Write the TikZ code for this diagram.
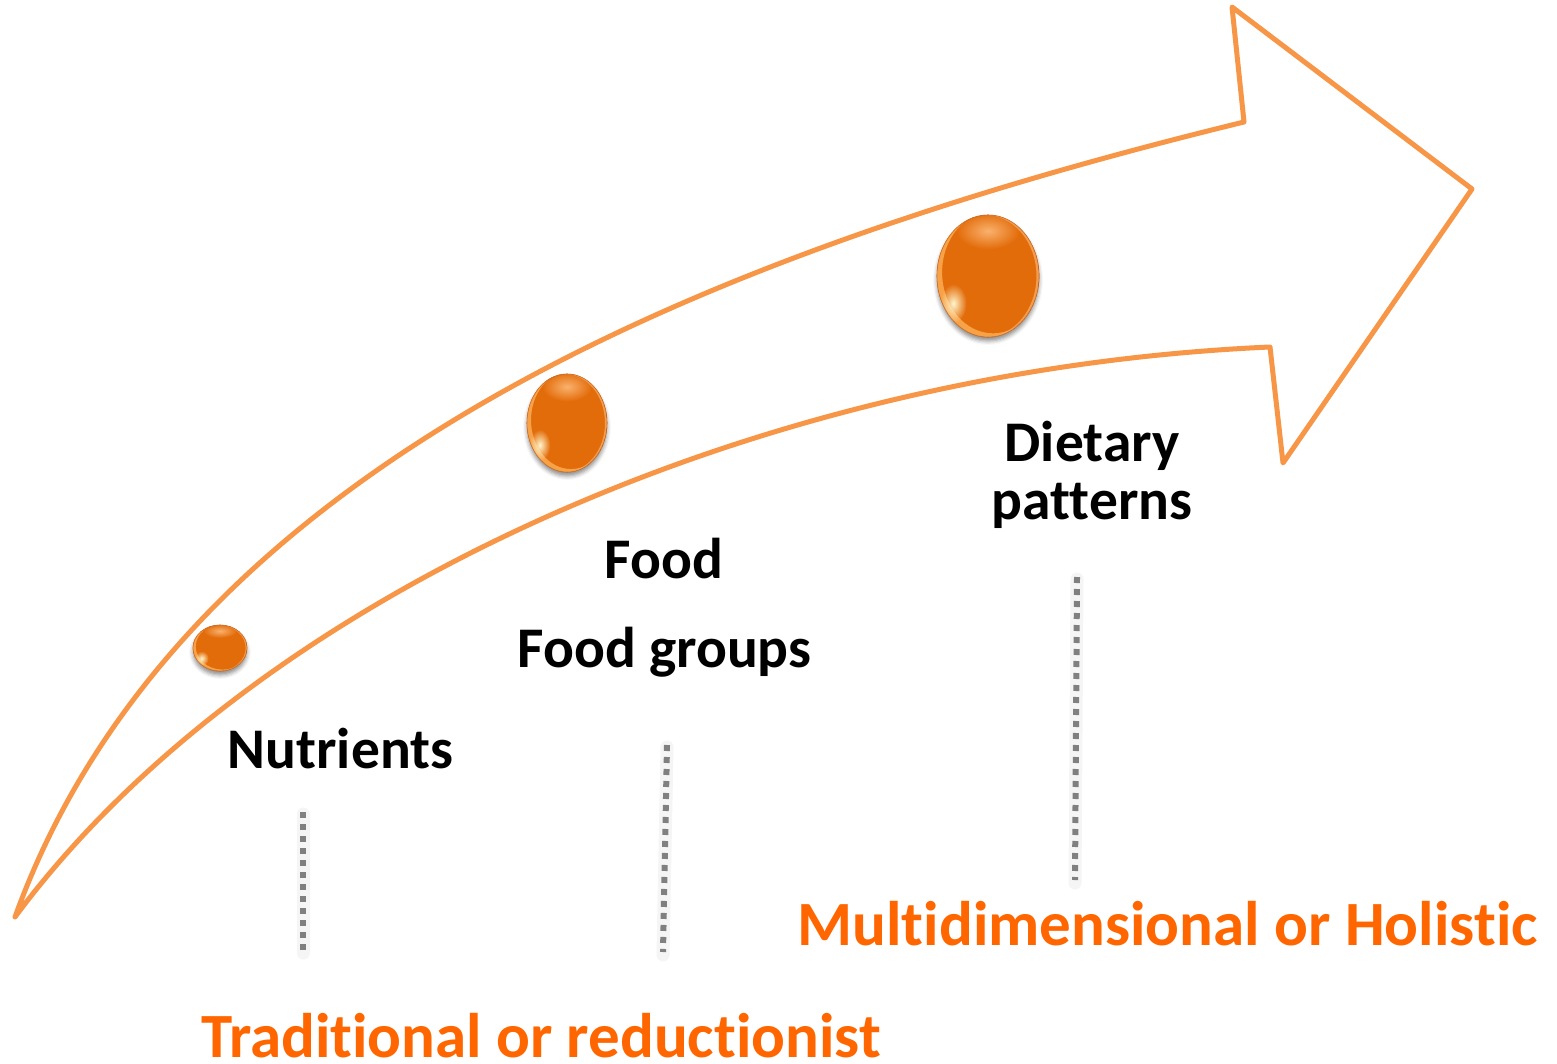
\documentclass[tikz,border=0pt]{standalone}
\usepackage{fontspec}
\setmainfont{Carlito}[Ligatures={NoCommon}, RawFeature={-liga;-clig}]
\usetikzlibrary{shapes.geometric,shadows.blur,fadings,calc}

\definecolor{arrowor}{RGB}{247,150,70}
\definecolor{ballor}{RGB}{227,108,10}
\definecolor{ballrim}{RGB}{196,92,18}
\definecolor{sheen}{RGB}{250,178,110}
\definecolor{rimglow}{RGB}{250,168,78}
\definecolor{spotglow}{RGB}{255,246,205}
\definecolor{labelor}{RGB}{255,102,0}
\definecolor{dotgray}{RGB}{128,128,128}

\tikzfading[name=glowfade, inner color=transparent!0, outer color=transparent!100]

\tikzset{
  arrowline/.style={draw=arrowor, line width=5pt, line join=round, line cap=round},
  lbl/.style={inner sep=0pt, anchor=base, font=\fontsize{57.5}{57.5}\selectfont\bfseries, text=black},
  cat/.style={inner sep=0pt, anchor=base, font=\fontsize{63}{63}\selectfont\bfseries, text=labelor},
  dotline/.style={draw=dotgray, line width=6pt, dash pattern=on 6pt off 6pt},
  dothalo/.style={draw=black, line width=13pt, opacity=0.04, line cap=round},
  ball/.style={ellipse, fill=ballor, draw=ballrim, line width=0.6pt, inner sep=0pt,
    blur shadow={shadow xshift=0pt, shadow yshift=-4pt, shadow blur radius=4pt, shadow opacity=45}},
}

% glossy orange bead: name, x, y, x-radius, y-radius
\newcommand\glossyball[5]{%
  \node[ball, minimum width=2*#4 pt, minimum height=2*#5 pt] (#1) at (#2,#3) {};
  \begin{scope}
    \clip (#1.center) ellipse [x radius=#4pt, y radius=#5pt];
    % sheen along the upper rim
    \fill[sheen, path fading=glowfade] ($(#1.center)+(0,-0.74*#5)$)
      ellipse [x radius=0.62*#4 pt, y radius=0.30*#5 pt];
    % warm crescent on the lower left
    \fill[rimglow, opacity=0.9, even odd rule]
      (#1.center) ellipse [x radius=#4pt, y radius=#5pt]
      ($(#1.center)+(0.10*#4,-0.06*#5)$) ellipse [x radius=#4pt, y radius=#5pt];
    % thin light edge on the right
    \fill[sheen, opacity=0.7, even odd rule]
      (#1.center) ellipse [x radius=#4pt, y radius=#5pt]
      ($(#1.center)+(-0.05*#4,0)$) ellipse [x radius=#4pt, y radius=#5pt];
    % bright spot low on the left side
    \fill[spotglow, path fading=glowfade] ($(#1.center)+(-0.68*#4,0.45*#5)$)
      ellipse [x radius=0.26*#4 pt, y radius=0.32*#5 pt];
  \end{scope}
  \draw[ballrim, line width=0.6pt, opacity=0.6] (#1.center) ellipse [x radius=#4pt, y radius=#5pt];
}

\begin{document}
\begin{tikzpicture}[x=1pt,y=-1pt]
\useasboundingbox (0,0) rectangle (1557,1064);

% curved hollow arrow
\draw[arrowline] (15,917) .. controls (180,460) and (720,250) .. (1244,122)
  -- (1232,7) -- (1472,189) -- (1283,463) -- (1270,347)
  .. controls (750,370) and (250,600) .. (15,917) -- cycle;

% beads growing along the arrow
\glossyball{bead1}{220}{648}{27}{23}
\glossyball{bead2}{567}{423}{40}{49}
\glossyball{bead3}{988}{276}{51}{61}

% level labels
\node[lbl] (nutr) at (340.5,768) {Nutrients};
\node[lbl] (food) at (664,578) {Food};
\node[lbl] (foodgr) at (664.5,667) {Food groups};
\node[lbl] (diet) at (1092,461) {Dietary};
\node[lbl] (pattern) at (1092,519) {patterns};

% approach labels
\node[cat] (holistic) at (1167.5,945) {Multidimensional or Holistic};
\node[cat] (reduct) at (541,1057) {Traditional or reductionist};

% dotted drop lines
\coordinate (n-top) at (303,812);
\coordinate (n-bot) at (303,950);
\coordinate (f-top) at (667,745);
\coordinate (f-bot) at (663,952);
\coordinate (d-top) at (1077,577);
\coordinate (d-bot) at (1075,880);
\foreach \a/\b in {n-top/n-bot, f-top/f-bot, d-top/d-bot}{
  \draw[dothalo] ($(\a)+(0,2)$) -- ($(\b)+(0,3)$);
  \draw[dotline] (\a) -- (\b);
}
\end{tikzpicture}
\end{document}
